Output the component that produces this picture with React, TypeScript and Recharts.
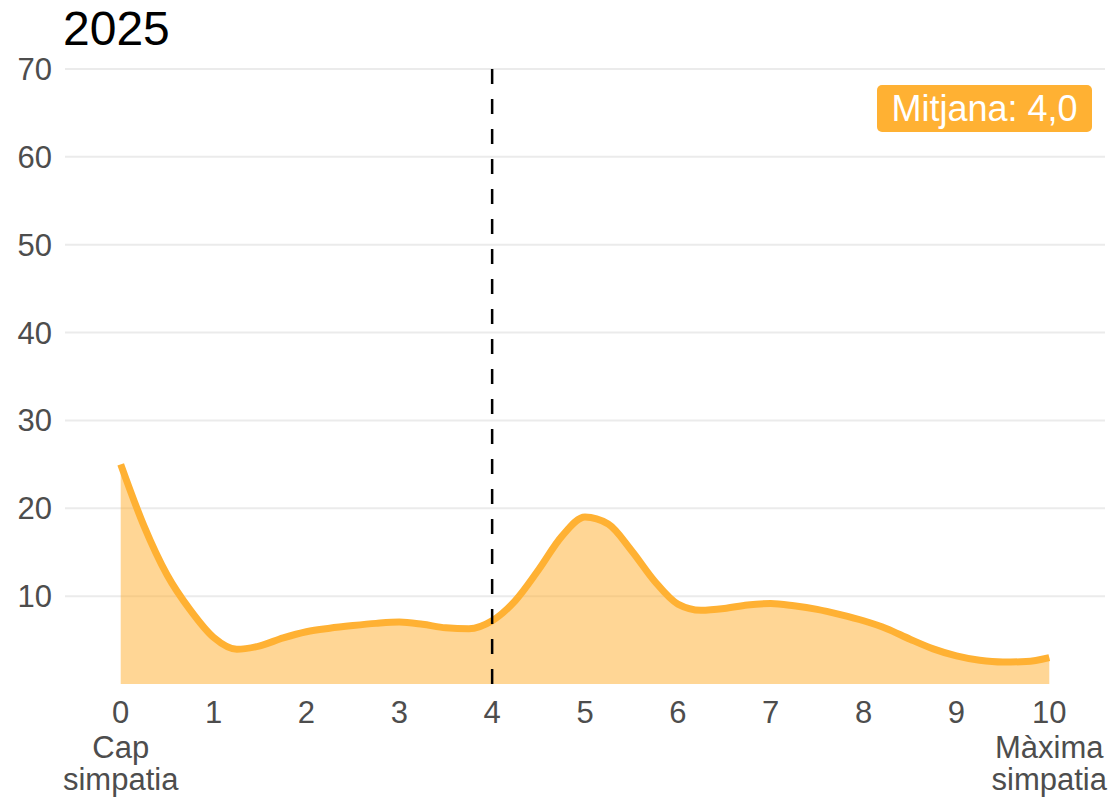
import {
  Area,
  AreaChart,
  CartesianGrid,
  ReferenceLine,
  XAxis,
  YAxis,
} from "recharts";

// density of the 0–10 sympathy scale at 0.25 steps
const scorePoints = [
  0, 0.25, 0.5, 0.75, 1, 1.25, 1.5, 1.75, 2, 2.25, 2.5, 2.75, 3, 3.25, 3.5,
  3.75, 4, 4.25, 4.5, 4.75, 5, 5.25, 5.5, 5.75, 6, 6.25, 6.5, 6.75, 7, 7.25,
  7.5, 7.75, 8, 8.25, 8.5, 8.75, 9, 9.25, 9.5, 9.75, 10,
];
const densityValues = [
  25, 18, 12.4, 8.4, 5.3, 3.95, 4.35, 5.25, 5.95, 6.35, 6.65, 6.9, 7.05, 6.8,
  6.4, 6.3, 7.2, 9.5, 13, 16.8, 19, 18.2, 15.2, 11.7, 9.1, 8.4, 8.6, 9, 9.15,
  8.9, 8.5, 7.9, 7.2, 6.3, 5.1, 4, 3.2, 2.7, 2.5, 2.55, 3,
];

const xTicks = [0, 1, 2, 3, 4, 5, 6, 7, 8, 9, 10];
const yTicks = [10, 20, 30, 40, 50, 60, 70];
const endLabels: Record<number, string[]> = {
  0: ["Cap", "simpatia"],
  10: ["Màxima", "simpatia"],
};

const title = "2025";
const meanValue = 4.0;

const FONT = '"Liberation Sans", Arial, sans-serif';
const ORANGE = "#FFB133";
const TEXT_GREY = "#4d4d4d";

const data = scorePoints.map((x, i) => ({ x, v: densityValues[i] }));

function XTick(props: any) {
  const { x, y, payload } = props;
  const extra = endLabels[payload.value] ?? [];
  return (
    <g>
      <text x={x} y={y + 39} textAnchor="middle" fill={TEXT_GREY} fontSize={31} fontFamily={FONT}>
        {payload.value}
      </text>
      {extra.map((line, i) => (
        <text
          key={line}
          x={x}
          y={y + 74 + i * 32}
          textAnchor="middle"
          fill={TEXT_GREY}
          fontSize={31}
          fontFamily={FONT}
        >
          {line}
        </text>
      ))}
    </g>
  );
}

export default function App() {
  const meanLabel = `Mitjana: ${meanValue.toFixed(1).replace(".", ",")}`;

  return (
    <div
      style={{
        position: "absolute",
        left: 0,
        top: 0,
        width: 1117,
        height: 797,
        background: "#fff",
        fontFamily: FONT,
      }}
    >
      <div
        style={{
          position: "absolute",
          left: 63,
          top: 3,
          fontSize: 48,
          lineHeight: "52px",
          color: "#000",
        }}
      >
        {title}
      </div>

      <AreaChart
        width={1117}
        height={797}
        data={data}
        margin={{ top: 69, right: 12, left: 0, bottom: 0 }}
      >
        <CartesianGrid
          vertical={false}
          horizontalValues={yTicks}
          stroke="#ebebeb"
          strokeWidth={2}
        />
        <XAxis
          dataKey="x"
          type="number"
          domain={[-0.6, 10.6]}
          ticks={xTicks}
          interval={0}
          axisLine={false}
          tickLine={false}
          tickSize={0}
          tickMargin={0}
          height={113}
          tick={<XTick />}
        />
        <YAxis
          type="number"
          domain={[0, 70]}
          ticks={yTicks}
          interval={0}
          width={65}
          axisLine={false}
          tickLine={false}
          tickSize={0}
          tickMargin={13}
          tick={{ fill: TEXT_GREY, fontSize: 31, fontFamily: FONT }}
        />
        <Area
          type="monotone"
          dataKey="v"
          stroke={ORANGE}
          strokeWidth={7}
          fill={ORANGE}
          fillOpacity={0.52}
          baseValue={0}
          dot={false}
          activeDot={false}
          isAnimationActive={false}
        />
        <ReferenceLine
          x={meanValue}
          stroke="#000"
          strokeWidth={2.5}
          strokeDasharray="15 15"
        />
      </AreaChart>

      <div
        style={{
          position: "absolute",
          left: 877,
          top: 85,
          width: 215,
          height: 47,
          background: ORANGE,
          borderRadius: 5,
          color: "#fff",
          fontSize: 36,
          lineHeight: "47px",
          textAlign: "center",
          whiteSpace: "nowrap",
        }}
      >
        {meanLabel}
      </div>
    </div>
  );
}
